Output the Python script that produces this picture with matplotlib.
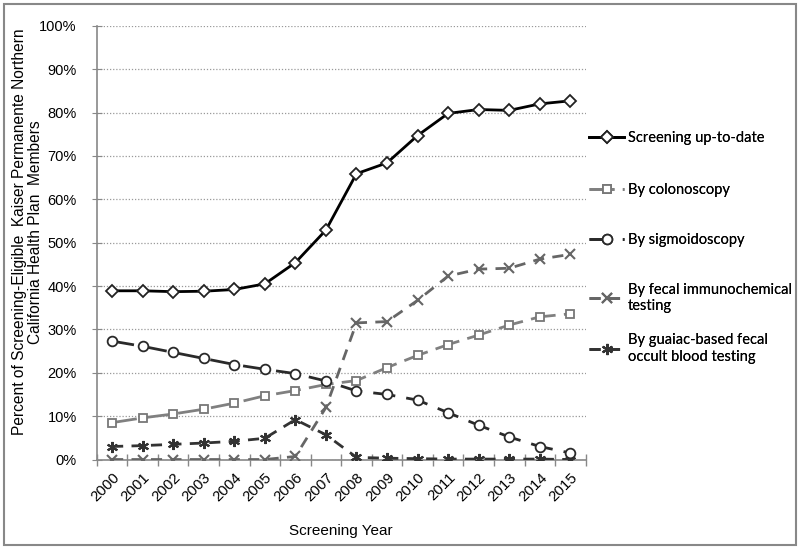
import matplotlib.pyplot as plt
from matplotlib.patches import Rectangle
import matplotlib.ticker as ticker

plt.rcParams['font.family'] = ['Liberation Sans', 'DejaVu Sans']

years = [str(y) for y in range(2000, 2016)]
up_to_date = [38.9, 38.9, 38.7, 38.8, 39.2, 40.5, 45.4, 52.9, 65.9, 68.4, 74.7, 79.8, 80.7, 80.5, 82.0, 82.7]
colonoscopy = [8.5, 9.6, 10.5, 11.6, 13.0, 14.7, 15.9, 17.3, 18.2, 21.2, 24.0, 26.5, 28.7, 31.0, 32.9, 33.6]
sigmoidoscopy = [27.3, 26.1, 24.7, 23.3, 21.9, 20.8, 19.8, 18.1, 15.8, 15.0, 13.7, 10.8, 7.9, 5.2, 3.0, 1.5]
fit = [0.0, 0.0, 0.0, 0.0, 0.0, 0.0, 0.7, 12.0, 31.5, 31.8, 36.7, 42.3, 43.9, 44.1, 46.2, 47.3]
gfobt = [3.0, 3.2, 3.5, 3.8, 4.2, 4.9, 9.2, 5.7, 0.5, 0.3, 0.2, 0.1, 0.1, 0.1, 0.1, 0.0]

fig = plt.figure(figsize=(8, 5.49), dpi=100)
ax = fig.add_axes([0.121, 0.163, 0.611, 0.79])
x = list(range(len(years)))

lines = []
lines += ax.plot(x, up_to_date, color='black', lw=2, marker='D', ms=6, mfc='white', mec='#222222', mew=1.3,
                 label='Screening up-to-date', zorder=5)
lines += ax.plot(x, colonoscopy, color='#808080', lw=2, dashes=(9, 3), marker='s', ms=5.5, mfc='white',
                 mec='#777777', mew=1.3, label='By colonoscopy', zorder=4)
lines += ax.plot(x, sigmoidoscopy, color='#2a2a2a', lw=2, dashes=(8, 4), marker='o', ms=7, mfc='white',
                 mec='#2a2a2a', mew=1.3, label='By sigmoidoscopy', zorder=4)
lines += ax.plot(x, fit, color='#666666', lw=2, dashes=(4, 3), marker='x', ms=7, mew=1.5,
                 label='By fecal immunochemical\ntesting', zorder=3)
lines += ax.plot(x, gfobt, color='#333333', lw=2, dashes=(4, 3), marker=(6, 2, 0), ms=8, mew=1.5,
                 label='By guaiac-based fecal\noccult blood testing', zorder=3)

ax.set_xlim(-0.5, 15.5)
ax.set_ylim(0, 100)
ax.yaxis.set_major_locator(ticker.MultipleLocator(10))
ax.yaxis.set_major_formatter(ticker.FuncFormatter(lambda v, p: '{:.0f}%'.format(v)))
ax.grid(axis='y', color='#999999', ls=(0, (1, 1.5)), lw=0.9)
ax.set_axisbelow(True)

ax.set_xticks(x)
ax.set_xticklabels(years, rotation=45, ha='right', va='top', rotation_mode='anchor', fontsize=10.8)
ax.set_xticks([i - 0.5 for i in range(len(years) + 1)], minor=True)
ax.tick_params(axis='x', which='major', length=0, pad=8)
ax.tick_params(axis='x', which='minor', length=8, direction='inout', color='#888888', width=1)
ax.tick_params(axis='y', length=7, direction='inout', color='#888888', labelsize=10.5, pad=11)

for s in ['top', 'right']:
    ax.spines[s].set_visible(False)
for s in ['left', 'bottom']:
    ax.spines[s].set_color('#888888')
    ax.spines[s].set_linewidth(1.2)

ax.set_xlabel('Screening Year', fontsize=11, labelpad=14)
ax.set_ylabel('Percent of Screening-Eligible  Kaiser Permanente Northern\nCalifornia Health Plan  Members',
              fontsize=11.2, linespacing=1.1)
ax.yaxis.set_label_coords(-0.11, 0.525)

# legend entries placed one by one, like the original
legend_y = [138, 190, 240, 298, 348.5]
for ln, yy in zip(lines, legend_y):
    lg = fig.legend(handles=[ln], loc='center left', bbox_to_anchor=(589 / 800, 1 - yy / 549),
                    frameon=False, handlelength=2.4, handletextpad=0.25, borderpad=0, borderaxespad=0,
                    prop={'family': 'Lato', 'size': 10.5})
    fig.add_artist(lg)

fig.patches.append(Rectangle((4 / 800, 4 / 549), 792 / 800, 541 / 549, transform=fig.transFigure,
                             fill=False, edgecolor='#888888', lw=1.5))

fig.savefig('out.png', dpi=100)
